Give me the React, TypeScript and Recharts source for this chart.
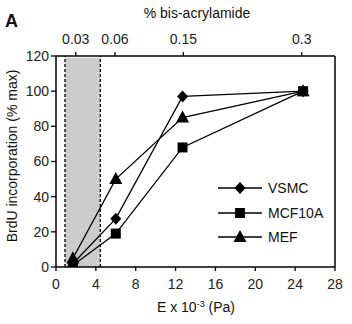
import React from 'react';
import {
  LineChart,
  Line,
  XAxis,
  YAxis,
  ReferenceArea,
  ReferenceLine,
  Customized,
} from 'recharts';

// stiffness E x 10^-3 (Pa)
const stiffness = [1.7, 6.0, 12.7, 24.8];
const vsmc = [2, 27.5, 97, 100];
const mcf10a = [1, 19, 68, 100];
const mef = [5, 50, 85, 100];

const bottomTicks = [0, 4, 8, 12, 16, 20, 24, 28];
const yTicks = [0, 20, 40, 60, 80, 100, 120];
const bisTickPositions = [1.98, 5.92, 12.78, 24.66];
const bisTickLabels = ['0.03', '0.06', '0.15', '0.3'];
const softRange = [0.9, 4.45];

const data = stiffness.map((e, i) => ({
  e,
  vsmc: vsmc[i],
  mcf10a: mcf10a[i],
  mef: mef[i],
}));

const FONT = '"Liberation Sans", Arial, sans-serif';

type Shape = 'diamond' | 'square' | 'triangle';

const markerPath = (shape: Shape, cx: number, cy: number) => {
  if (shape === 'diamond') return `M${cx},${cy - 6}L${cx + 5.5},${cy}L${cx},${cy + 6}L${cx - 5.5},${cy}Z`;
  if (shape === 'square') return `M${cx - 5},${cy - 5}h10v10h-10Z`;
  return `M${cx},${cy - 7}L${cx + 6.5},${cy + 5}L${cx - 6.5},${cy + 5}Z`;
};

const makeDot = (shape: Shape) => (props: any) => {
  const { cx, cy, index } = props;
  if (cx == null || cy == null) return <g key={index} />;
  return <path key={`${shape}-${index}`} d={markerPath(shape, cx, cy)} fill="#000" />;
};

const series: { key: string; name: string; shape: Shape }[] = [
  { key: 'vsmc', name: 'VSMC', shape: 'diamond' },
  { key: 'mcf10a', name: 'MCF10A', shape: 'square' },
  { key: 'mef', name: 'MEF', shape: 'triangle' },
];

const LegendBox = () => (
  <div style={{ position: 'absolute', left: 216, top: 176, fontFamily: FONT, fontSize: 14, color: '#111' }}>
    {series.map((s) => (
      <div key={s.key} style={{ display: 'flex', alignItems: 'center', height: 24.5 }}>
        <svg width={48} height={16}>
          <line x1={2} y1={8} x2={46} y2={8} stroke="#000" strokeWidth={1.3} />
          <path d={markerPath(s.shape, 24, 8)} fill="#000" />
        </svg>
        <span style={{ marginLeft: 4 }}>{s.name}</span>
      </div>
    ))}
  </div>
);

const Texts = () => (
  <g fontFamily={FONT} fill="#111">
    <text x={5} y={27} fontSize={18} fontWeight="bold">A</text>
    <text x={197} y={18} fontSize={14} textAnchor="middle">% bis-acrylamide</text>
    <text x={196} y={312} fontSize={14} textAnchor="middle">
      E x 10
      <tspan fontSize={9} dy={-5}>-3</tspan>
      <tspan dy={5}> (Pa)</tspan>
    </text>
    <text
      x={17}
      y={156}
      fontSize={14}
      textAnchor="middle"
      transform="rotate(-90 17 156)"
    >
      BrdU incorporation (% max)
    </text>
  </g>
);

export default function App() {
  return (
    <div style={{ position: 'absolute', left: 0, top: 0, width: 352, height: 324, background: '#fff', fontFamily: FONT }}>
      <LineChart
        width={352}
        height={324}
        data={data}
        margin={{ top: 26, right: 17, bottom: 27, left: 26 }}
      >
        <ReferenceArea
          xAxisId="bottom"
          x1={softRange[0]}
          x2={softRange[1]}
          y1={0}
          y2={119}
          fill="#cccccc"
          fillOpacity={1}
          stroke="none"
        />
        <ReferenceLine xAxisId="bottom" x={softRange[0]} stroke="#000" strokeDasharray="3 2" strokeWidth={1.3} />
        <ReferenceLine xAxisId="bottom" x={softRange[1]} stroke="#000" strokeDasharray="3 2" strokeWidth={1.3} />
        <ReferenceLine xAxisId="bottom" x={28} stroke="#000" strokeWidth={1.5} />
        <XAxis
          xAxisId="bottom"
          dataKey="e"
          type="number"
          domain={[0, 28]}
          allowDataOverflow
          ticks={bottomTicks}
          height={30}
          tickSize={4}
          tickMargin={8}
          axisLine={{ stroke: '#000', strokeWidth: 1.5 }}
          tickLine={{ stroke: '#000', strokeWidth: 1.3 }}
          tick={{ fill: '#222', fontSize: 14 }}
          interval={0}
        />
        <XAxis
          xAxisId="top"
          orientation="top"
          dataKey="e"
          type="number"
          domain={[0, 28]}
          allowDataOverflow
          ticks={bisTickPositions}
          tickFormatter={(v: number) => bisTickLabels[bisTickPositions.indexOf(v)]}
          height={30}
          tickSize={4}
          tickMargin={8}
          axisLine={{ stroke: '#000', strokeWidth: 1.5 }}
          tickLine={{ stroke: '#000', strokeWidth: 1.3 }}
          tick={{ fill: '#222', fontSize: 14 }}
          interval={0}
        />
        <YAxis
          type="number"
          domain={[0, 120]}
          allowDataOverflow
          ticks={yTicks}
          width={30}
          tickSize={5}
          tickMargin={2}
          axisLine={{ stroke: '#000', strokeWidth: 1.5 }}
          tickLine={{ stroke: '#000', strokeWidth: 1.3 }}
          tick={{ fill: '#222', fontSize: 14 }}
          interval={0}
        />
        {series.map((s) => (
          <Line
            key={s.key}
            xAxisId="bottom"
            dataKey={s.key}
            name={s.name}
            type="linear"
            stroke="#000"
            strokeWidth={1.3}
            dot={makeDot(s.shape)}
            activeDot={false}
            isAnimationActive={false}
          />
        ))}
        <Customized component={Texts} />
      </LineChart>
      <LegendBox />
    </div>
  );
}
